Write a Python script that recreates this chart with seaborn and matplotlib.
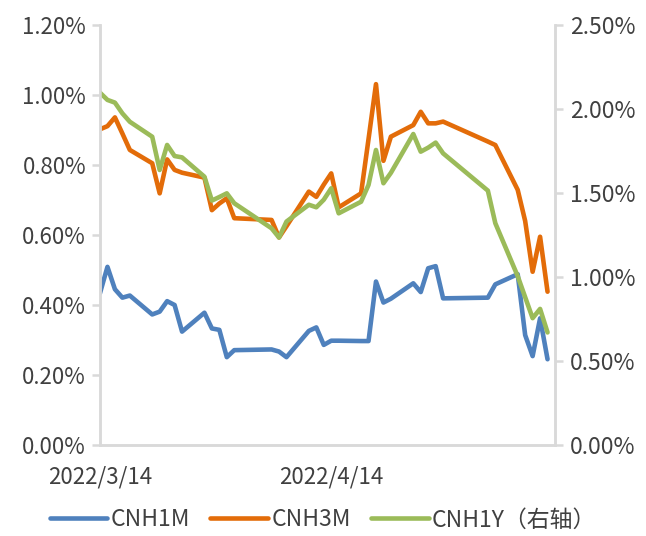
import matplotlib
matplotlib.use("Agg")
import matplotlib.pyplot as plt
import seaborn as sns
import pandas as pd

dates = ['2022-03-14','2022-03-15','2022-03-16','2022-03-17','2022-03-18',
         '2022-03-21','2022-03-22','2022-03-23','2022-03-24','2022-03-25',
         '2022-03-28','2022-03-29','2022-03-30','2022-03-31','2022-04-01',
         '2022-04-06','2022-04-07','2022-04-08',
         '2022-04-11','2022-04-12','2022-04-13','2022-04-14','2022-04-15',
         '2022-04-18','2022-04-19','2022-04-20','2022-04-21','2022-04-22',
         '2022-04-25','2022-04-26','2022-04-27','2022-04-28','2022-04-29',
         '2022-05-05','2022-05-06',
         '2022-05-09','2022-05-10','2022-05-11','2022-05-12','2022-05-13']

cnh1m = [0.434, 0.509, 0.445, 0.421, 0.427,
         0.373, 0.381, 0.411, 0.400, 0.324,
         0.378, 0.333, 0.329, 0.251, 0.271,
         0.273, 0.267, 0.251,
         0.326, 0.336, 0.286, 0.298, 0.298,
         0.297, 0.297, 0.467, 0.407, 0.418,
         0.462, 0.437, 0.505, 0.511, 0.419,
         0.421, 0.459,
         0.488, 0.314, 0.254, 0.362, 0.245]

cnh3m = [0.902, 0.911, 0.936, 0.890, 0.843,
         0.805, 0.719, 0.816, 0.786, 0.778,
         0.764, 0.671, 0.690, 0.705, 0.648,
         0.643, 0.593, 0.625,
         0.724, 0.709, 0.744, 0.776, 0.679,
         0.719, 0.874, 1.031, 0.812, 0.881,
         0.914, 0.952, 0.919, 0.919, 0.924,
         0.867, 0.857,
         0.729, 0.640, 0.495, 0.595, 0.438]

cnh1y = [2.097, 2.054, 2.038, 1.974, 1.924,
         1.835, 1.637, 1.786, 1.720, 1.712,
         1.597, 1.455, 1.476, 1.498, 1.439,
         1.290, 1.235, 1.330,
         1.430, 1.415, 1.460, 1.528, 1.379,
         1.448, 1.548, 1.756, 1.558, 1.620,
         1.851, 1.746, 1.770, 1.800, 1.736,
         1.514, 1.320,
         1.005, 0.880, 0.755, 0.810, 0.670]

series_names = ['CNH1M', 'CNH3M', 'CNH1Y（右轴）']
colors = ['#4F81BD', '#E36C09', '#9BBB59']
left_ticks = [0.0, 0.2, 0.4, 0.6, 0.8, 1.0, 1.2]
right_ticks = [0.0, 0.5, 1.0, 1.5, 2.0, 2.5]
x_tick_dates = ['2022-03-14', '2022-04-14', '2022-05-14']
x_tick_labels = ['2022/3/14', '2022/4/14', '']

sns.set_style("white")
plt.rcParams['font.family'] = ['Noto Sans CJK SC', 'DejaVu Sans']
plt.rcParams['font.weight'] = 'light'

df = pd.DataFrame({'date': pd.to_datetime(dates),
                   'CNH1M': cnh1m, 'CNH3M': cnh3m, 'CNH1Y': cnh1y})

fig = plt.figure(figsize=(6.46, 5.36), dpi=100)
ax = fig.add_axes([100/646, 1-445/536, 455/646, 420/536])
ax2 = ax.twinx()

lw = 3.3
sns.lineplot(data=df, x='date', y='CNH1M', ax=ax, color=colors[0], lw=lw, label=series_names[0], legend=False)
sns.lineplot(data=df, x='date', y='CNH3M', ax=ax, color=colors[1], lw=lw, label=series_names[1], legend=False)
sns.lineplot(data=df, x='date', y='CNH1Y', ax=ax2, color=colors[2], lw=lw, label=series_names[2], legend=False)

ax.set_xlim(pd.Timestamp('2022-03-14'), pd.Timestamp('2022-05-14'))
ax.set_ylim(0, 1.2)
ax2.set_ylim(0, 2.5)
ax.set_yticks(left_ticks)
ax.set_yticklabels([f'{v:.2f}%' for v in left_ticks])
ax2.set_yticks(right_ticks)
ax2.set_yticklabels([f'{v:.2f}%' for v in right_ticks])
ax.set_xticks(pd.to_datetime(x_tick_dates))
ax.set_xticklabels(x_tick_labels)
ax.set_xlabel('')
ax.set_ylabel('')
ax2.set_ylabel('')

spine_c = '#D9D9D9'
text_c = '#404040'
for a in (ax, ax2):
    for s in a.spines.values():
        s.set_color(spine_c)
        s.set_linewidth(1.8)
    a.spines['top'].set_visible(False)
    a.grid(False)
ax.tick_params(axis='y', colors=spine_c, labelcolor=text_c, labelsize=16, length=6, width=1.8, direction='out', pad=4)
ax2.tick_params(axis='y', colors=spine_c, labelcolor=text_c, labelsize=16.5, length=6, width=1.8, direction='out', pad=5)
ax.tick_params(axis='x', colors=spine_c, labelcolor=text_c, labelsize=16, length=6, width=1.8, direction='out', pad=9)

h1, l1 = ax.get_legend_handles_labels()
h2, l2 = ax2.get_legend_handles_labels()
fig.legend(h1 + h2, l1 + l2, loc='lower center', bbox_to_anchor=(0.5, -0.03), ncol=3,
           frameon=False, fontsize=16.5, handlelength=2.5, handletextpad=0.15,
           columnspacing=0.9, labelcolor=text_c)

fig.savefig('out.png', dpi=100)
